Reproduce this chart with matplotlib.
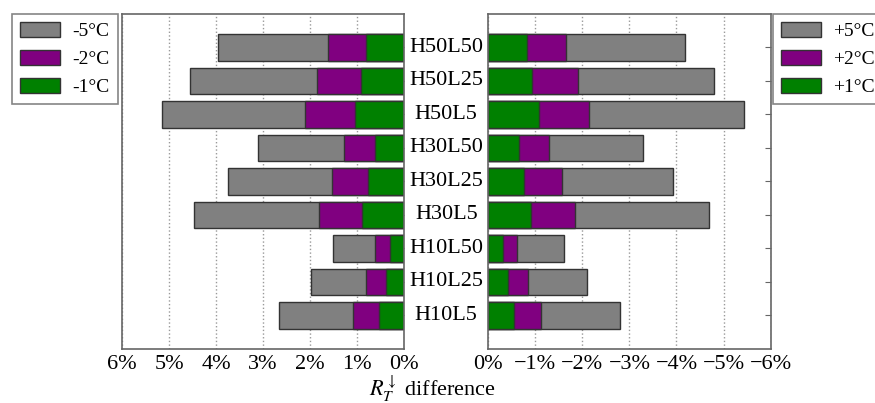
import numpy as np
import matplotlib
matplotlib.use("Agg")
import matplotlib.pyplot as plt
import matplotlib.transforms as mtransforms
from matplotlib.ticker import FuncFormatter

plt.rcParams['font.family'] = ['Liberation Serif', 'DejaVu Serif']
plt.rcParams['mathtext.fontset'] = 'stix'

# data (percent); stacked bars overlap from 0
cases = ['H50L50', 'H50L25', 'H50L5', 'H30L50', 'H30L25', 'H30L5', 'H10L50', 'H10L25', 'H10L5']
cool5 = [3.96, 4.55, 5.15, 3.11, 3.74, 4.46, 1.51, 1.99, 2.66]
cool2 = [1.62, 1.86, 2.11, 1.28, 1.53, 1.82, 0.62, 0.82, 1.09]
cool1 = [0.81, 0.93, 1.05, 0.63, 0.77, 0.91, 0.30, 0.40, 0.54]
warm5 = [4.18, 4.79, 5.43, 3.28, 3.93, 4.70, 1.60, 2.10, 2.80]
warm2 = [1.65, 1.90, 2.15, 1.30, 1.56, 1.85, 0.62, 0.84, 1.12]
warm1 = [0.82, 0.94, 1.07, 0.66, 0.77, 0.91, 0.31, 0.42, 0.55]

GRAY, PURPLE, GREEN = '#808080', '#800080', '#008000'
EDGE = '#333333'
SPINE = '#666666'

fig = plt.figure(figsize=(8.75, 4.03), dpi=100)
axL = fig.add_axes([0.1394, 0.134, 0.3227, 0.8313])
axR = fig.add_axes([0.558, 0.134, 0.3227, 0.8313])

y = np.arange(len(cases))
h = 0.8

def draw(ax, v5, v2, v1, labels):
    b5 = ax.barh(y, v5, height=h, color=GRAY, edgecolor=EDGE, linewidth=1, label=labels[0])
    b2 = ax.barh(y, v2, height=h, color=PURPLE, edgecolor=EDGE, linewidth=1, label=labels[1])
    b1 = ax.barh(y, v1, height=h, color=GREEN, edgecolor=EDGE, linewidth=1, label=labels[2])
    ax.set_xlim(0, 6)
    ax.set_ylim(len(cases), -1)
    ax.set_xticks(range(7))
    ax.set_yticks(y)
    ax.set_yticklabels([])
    ax.xaxis.grid(True, linestyle=':', color='#999999', linewidth=1)
    ax.set_axisbelow(True)
    for s in ax.spines.values():
        s.set_color(SPINE)
        s.set_linewidth(1.2)
    ax.tick_params(axis='x', length=0, labelsize=16, pad=4)
    ax.tick_params(axis='y', direction='in', length=4, color=SPINE, left=False, right=True)
    return [b5, b2, b1]

hL = draw(axL, cool5, cool2, cool1, ['-5°C', '-2°C', '-1°C'])
axL.invert_xaxis()
axL.xaxis.set_major_formatter(FuncFormatter(lambda v, p: '%d%%' % v))

hR = draw(axR, warm5, warm2, warm1, ['+5°C', '+2°C', '+1°C'])
axR.xaxis.set_major_formatter(FuncFormatter(lambda v, p: '0%' if v == 0 else '\u2212%d%%' % v))

# case names between the two panels
tr = mtransforms.blended_transform_factory(fig.transFigure, axL.transData)
for i, name in enumerate(cases):
    fig.text(0.510, y[i], name, transform=tr, ha='center', va='center', fontsize=16)

fig.text(0.494, 0.036, r'$R_T^{\downarrow}$ difference', ha='center', va='center', fontsize=16)

leg_kw = dict(fontsize=14, frameon=True, fancybox=False, handlelength=2.05,
              handleheight=0.8, borderaxespad=0, borderpad=0.42, labelspacing=0.5,
              handletextpad=0.65)
legL = fig.legend(handles=hL, loc='upper right', bbox_to_anchor=(0.1349, 0.9653), **leg_kw)
legR = fig.legend(handles=hR, loc='upper left', bbox_to_anchor=(0.883, 0.9653), **leg_kw)
for leg in (legL, legR):
    leg.get_frame().set_edgecolor(SPINE)
    leg.get_frame().set_linewidth(1.2)

fig.savefig('out.png', dpi=100)
